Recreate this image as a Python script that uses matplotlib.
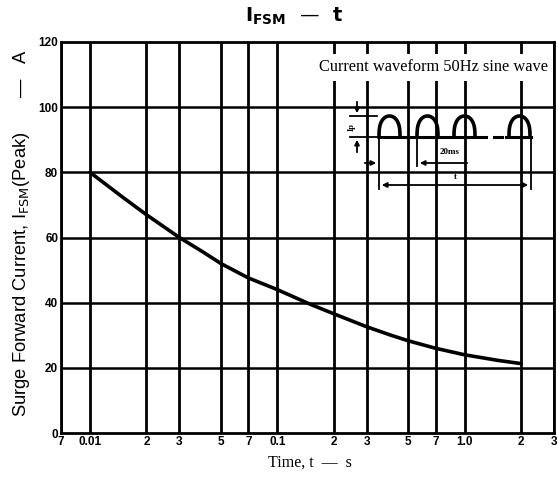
import numpy as np
import matplotlib
matplotlib.use("Agg")
import matplotlib.pyplot as plt

# 数据：浪涌正向电流 IFSM 与时间 t
time_s = [0.01, 0.015, 0.02, 0.03, 0.04, 0.05, 0.07, 0.1, 0.15, 0.2, 0.3, 0.4, 0.5, 0.7, 1.0, 1.5, 2.0]
ifsm_a = [80, 72.3, 67, 60, 55.6, 52, 47.6, 44, 39.5, 36.6, 32.6, 30.1, 28.3, 26, 24, 22.3, 21.3]

xtick_vals = [0.007, 0.01, 0.02, 0.03, 0.05, 0.07, 0.1, 0.2, 0.3, 0.5, 0.7, 1.0, 2.0, 3.0]
xtick_labels = ["7", "0.01", "2", "3", "5", "7", "0.1", "2", "3", "5", "7", "1.0", "2", "3"]
ytick_vals = [0, 20, 40, 60, 80, 100, 120]

W, H = 558, 482
fig = plt.figure(figsize=(W / 100, H / 100), dpi=100)

# 主坐标轴（像素位置换算）
L, R, T, B = 61, 554, 42, 433
ax = fig.add_axes([L / W, 1 - B / H, (R - L) / W, (B - T) / H])
ax.set_xscale("log")
ax.set_xlim(0.007, 3.0)
ax.set_ylim(0, 120)

for xv in xtick_vals:
    ax.axvline(xv, color="black", lw=2.0, zorder=1)
for yv in ytick_vals[1:-1]:
    ax.axhline(yv, color="black", lw=1.8, zorder=1)

ax.plot(time_s, ifsm_a, color="black", lw=2.6, zorder=3, solid_capstyle="round",
        solid_joinstyle="round")

ax.set_xticks(xtick_vals)
ax.set_xticklabels(xtick_labels)
ax.xaxis.set_minor_locator(matplotlib.ticker.NullLocator())
ax.set_yticks(ytick_vals)
ax.tick_params(length=0, pad=2, labelsize=8.5)
for lab in ax.get_xticklabels() + ax.get_yticklabels():
    lab.set_family("Liberation Sans")
    lab.set_fontweight("bold")
for s in ax.spines.values():
    s.set_linewidth(2.0)

# 右上角说明文字
ax.text(0.755, 0.935, "Current waveform 50Hz sine wave", transform=ax.transAxes,
        ha="center", va="center", fontsize=11.8, family="Liberation Serif", zorder=5,
        bbox=dict(facecolor="white", edgecolor="none", pad=4))

# 波形示意图（内嵌坐标轴，用像素坐标）
x0, x1, y0, y1 = 345, 548, 95, 192
ins = fig.add_axes([x0 / W, 1 - y1 / H, (x1 - x0) / W, (y1 - y0) / H])
ins.set_xlim(x0, x1)
ins.set_ylim(y1, y0)
ins.set_facecolor("white")
ins.axis("off")
ins.patch.set_visible(True)
ins.set_zorder(4)

base, top = 137, 116
hump_starts = [379, 417, 454, 509]
hw = 21
theta = np.linspace(np.pi, 0, 40)
for hs in hump_starts:
    cx = hs + hw / 2
    ins.plot(cx + hw / 2 * np.cos(theta), base - (base - top) * np.sin(theta) ** 0.7,
             color="black", lw=2.6)
ins.plot([379, 475], [base, base], color="black", lw=2.2)
ins.plot([478, 486], [base, base], color="black", lw=2.2)
ins.plot([494, 502], [base, base], color="black", lw=2.2)
ins.plot([506, 531], [base, base], color="black", lw=2.2)

kw = dict(color="black", lw=1.3)
ak = dict(arrowstyle="-|>", color="black", lw=1.3, mutation_scale=7)
ins.plot([350, 377], [top, top], **kw)
ins.plot([350, 377], [base, base], **kw)
ins.annotate("", xy=(357, top), xytext=(357, 99), arrowprops=ak)
ins.annotate("", xy=(357, base), xytext=(357, 155), arrowprops=ak)
ins.text(352, 127, "Ip", rotation=90, ha="center", va="center", fontsize=6,
         family="Liberation Serif", fontweight="bold")

ins.plot([379, 379], [base, 189], **kw)
ins.plot([417, 417], [base, 166], **kw)
ins.plot([531, 531], [base, 189], **kw)
ins.annotate("", xy=(379, 163), xytext=(362, 163), arrowprops=ak)
ins.annotate("", xy=(417, 163), xytext=(470, 163), arrowprops=ak)
ins.text(450, 156, "20ms", ha="center", va="bottom", fontsize=6.5,
         family="Liberation Serif", fontweight="bold")
ins.annotate("", xy=(379, 185), xytext=(531, 185),
             arrowprops=dict(arrowstyle="<|-|>", color="black", lw=1.3, mutation_scale=7))
ins.text(455, 181, "t", ha="center", va="bottom", fontsize=6.5,
         family="Liberation Serif", fontweight="bold")

# 标题与坐标轴标签
fig.text(0.528, 0.967, r"$\mathbf{I_{FSM}}$  —  t", ha="center", va="center",
         fontsize=14, fontweight="bold", family="DejaVu Sans")
fig.text(0.555, 0.04, "Time, t  —  s", ha="center", va="center",
         fontsize=11.5, family="Liberation Serif")
ylab_kw = dict(rotation=90, ha="center", va="center", family="Liberation Sans")
fig.text(0.038, 1 - 274 / H, r"Surge Forward Current, I$_{\rm FSM}$(Peak)", fontsize=13.2, **ylab_kw)
fig.text(0.038, 1 - 88 / H, "—", fontsize=13.2, **ylab_kw)
fig.text(0.038, 1 - 57 / H, "A", fontsize=13.2, **ylab_kw)

fig.savefig("out.png", dpi=100, facecolor="white")
